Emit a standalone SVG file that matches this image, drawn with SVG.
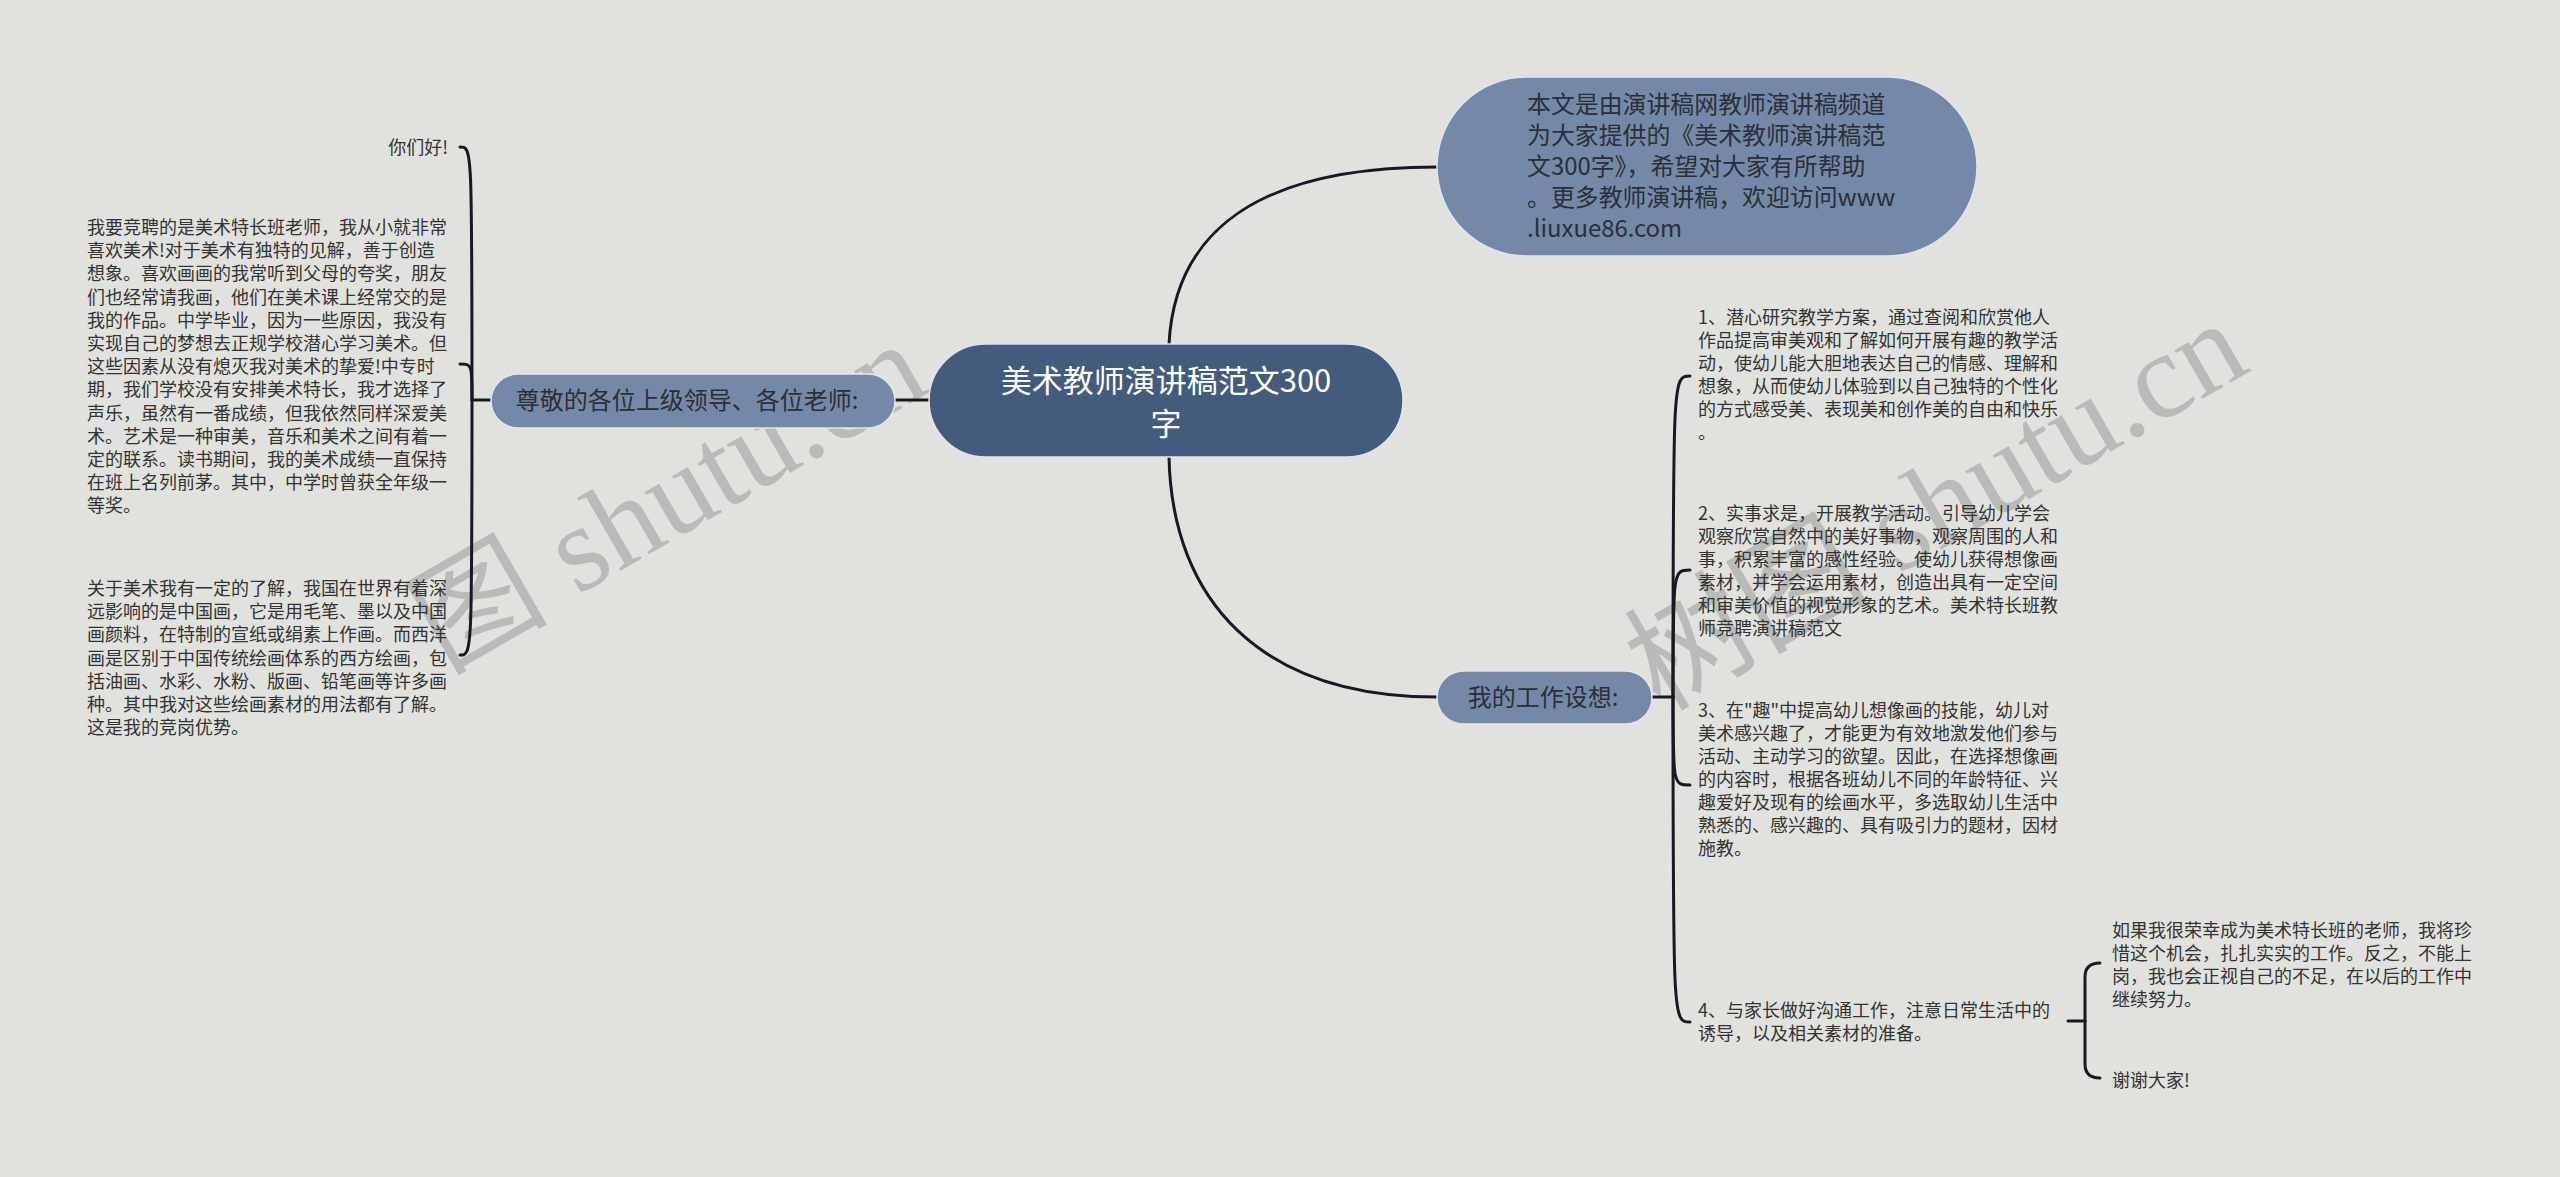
<svg xmlns="http://www.w3.org/2000/svg" width="2560" height="1177" viewBox="0 0 2560 1177">
<defs>
<style>
.bg{fill:#e1e2de}
.conn{fill:none;stroke:#151a25;stroke-width:3;stroke-linecap:round}
.root{fill:#435b7c;stroke:#dfe6ee;stroke-width:1.5}
.main{fill:#7489a8;stroke:#dfe6ee;stroke-width:1.5}
.t{font-family:'Noto Sans CJK SC','Noto Sans',sans-serif;fill:#333333;font-size:18px}
.tm{font-family:'Noto Sans CJK SC','Noto Sans',sans-serif;fill:#2b2f36;font-size:24px}
.tr{font-family:'Noto Sans CJK SC','Noto Sans',sans-serif;fill:#ffffff;font-size:31px}
.wm{font-family:'Liberation Serif','Noto Sans CJK SC',serif;fill:#8c8c8c;fill-opacity:0.45;font-size:122px}
</style>
</defs>
<rect class="bg" x="0" y="0" width="2560" height="1177"/>

<g id="watermark">
<text class="wm" x="445" y="672" transform="rotate(-30 445 672)">图 shutu.cn</text>
<text class="wm" x="1660" y="712" transform="rotate(-30 1660 712)">树图 shutu.cn</text>
</g>

<g id="connectors">
<path class="conn" d="M1169 344 C1175 230 1260 167 1437 167"/>
<path class="conn" d="M1169 457 C1172 600 1260 697 1437 697"/>
<path class="conn" d="M895 400 L929 400"/>
<path class="conn" d="M491 400 L472 400"/>
<path class="conn" d="M472 400 C472 147 472 147 460 147"/>
<path class="conn" d="M472 400 C472 364 472 364 460 364"/>
<path class="conn" d="M472 400 C472 655 472 655 460 655"/>
<path class="conn" d="M1652 697 L1673 697"/>
<path class="conn" d="M1673 697 C1673 376 1673 376 1690 376"/>
<path class="conn" d="M1673 697 C1673 570 1673 570 1690 570"/>
<path class="conn" d="M1673 697 C1673 785 1673 785 1690 785"/>
<path class="conn" d="M1673 697 C1673 1022 1673 1022 1690 1022"/>
<path class="conn" d="M2068 1021 L2085 1021"/>
<path class="conn" d="M2085 1021 L2085 977 Q2085 963 2100 963"/>
<path class="conn" d="M2085 1021 L2085 1064 Q2085 1078 2100 1078"/>
</g>

<g id="root">
<rect class="root" x="929" y="344" width="474" height="113" rx="56.5"/>
<text class="tr" text-anchor="middle"><tspan x="1166" y="392">美术教师演讲稿范文300</tspan><tspan x="1166" y="435">字</tspan></text>
</g>

<g id="intro">
<rect class="main" x="1437" y="77" width="540" height="179" rx="89.5"/>
<text class="tm" style="font-size:23.9px"><tspan x="1527" y="113">本文是由演讲稿网教师演讲稿频道</tspan><tspan x="1527" y="144">为大家提供的《美术教师演讲稿范</tspan><tspan x="1527" y="175">文300字》，希望对大家有所帮助</tspan><tspan x="1527" y="206">。更多教师演讲稿，欢迎访问www</tspan><tspan x="1527" y="237">.liuxue86.com</tspan></text>
</g>

<g id="greeting">
<rect class="main" x="491" y="374" width="404" height="54" rx="27"/>
<text class="tm" x="687" y="409" text-anchor="middle">尊敬的各位上级领导、各位老师:</text>
</g>

<g id="hello">
<text class="t" x="448" y="154" text-anchor="end">你们好!</text>
</g>

<g id="intro-self">
<text class="t"><tspan x="87" y="234">我要竞聘的是美术特长班老师，我从小就非常</tspan><tspan x="87" dy="23.2">喜欢美术!对于美术有独特的见解，善于创造</tspan><tspan x="87" dy="23.2">想象。喜欢画画的我常听到父母的夸奖，朋友</tspan><tspan x="87" dy="23.2">们也经常请我画，他们在美术课上经常交的是</tspan><tspan x="87" dy="23.2">我的作品。中学毕业，因为一些原因，我没有</tspan><tspan x="87" dy="23.2">实现自己的梦想去正规学校潜心学习美术。但</tspan><tspan x="87" dy="23.2">这些因素从没有熄灭我对美术的挚爱!中专时</tspan><tspan x="87" dy="23.2">期，我们学校没有安排美术特长，我才选择了</tspan><tspan x="87" dy="23.2">声乐，虽然有一番成绩，但我依然同样深爱美</tspan><tspan x="87" dy="23.2">术。艺术是一种审美，音乐和美术之间有着一</tspan><tspan x="87" dy="23.2">定的联系。读书期间，我的美术成绩一直保持</tspan><tspan x="87" dy="23.2">在班上名列前茅。其中，中学时曾获全年级一</tspan><tspan x="87" dy="23.2">等奖。</tspan></text>
</g>

<g id="advantage">
<text class="t"><tspan x="87" y="595">关于美术我有一定的了解，我国在世界有着深</tspan><tspan x="87" dy="23.2">远影响的是中国画，它是用毛笔、墨以及中国</tspan><tspan x="87" dy="23.2">画颜料，在特制的宣纸或绢素上作画。而西洋</tspan><tspan x="87" dy="23.2">画是区别于中国传统绘画体系的西方绘画，包</tspan><tspan x="87" dy="23.2">括油画、水彩、水粉、版画、铅笔画等许多画</tspan><tspan x="87" dy="23.2">种。其中我对这些绘画素材的用法都有了解。</tspan><tspan x="87" dy="23.2">这是我的竞岗优势。</tspan></text>
</g>

<g id="plan">
<rect class="main" x="1437" y="671" width="215" height="53" rx="26.5"/>
<text class="tm" x="1543" y="706" text-anchor="middle">我的工作设想:</text>
</g>

<g id="plan-1">
<text class="t"><tspan x="1698" y="324">1、潜心研究教学方案，通过查阅和欣赏他人</tspan><tspan x="1698" dy="23">作品提高审美观和了解如何开展有趣的教学活</tspan><tspan x="1698" dy="23">动，使幼儿能大胆地表达自己的情感、理解和</tspan><tspan x="1698" dy="23">想象，从而使幼儿体验到以自己独特的个性化</tspan><tspan x="1698" dy="23">的方式感受美、表现美和创作美的自由和快乐</tspan><tspan x="1698" dy="23">。</tspan></text>
</g>

<g id="plan-2">
<text class="t"><tspan x="1698" y="520">2、实事求是，开展教学活动。引导幼儿学会</tspan><tspan x="1698" dy="23">观察欣赏自然中的美好事物，观察周围的人和</tspan><tspan x="1698" dy="23">事，积累丰富的感性经验。使幼儿获得想像画</tspan><tspan x="1698" dy="23">素材，并学会运用素材，创造出具有一定空间</tspan><tspan x="1698" dy="23">和审美价值的视觉形象的艺术。美术特长班教</tspan><tspan x="1698" dy="23">师竞聘演讲稿范文</tspan></text>
</g>

<g id="plan-3">
<text class="t"><tspan x="1698" y="717">3、在"趣"中提高幼儿想像画的技能，幼儿对</tspan><tspan x="1698" dy="23">美术感兴趣了，才能更为有效地激发他们参与</tspan><tspan x="1698" dy="23">活动、主动学习的欲望。因此，在选择想像画</tspan><tspan x="1698" dy="23">的内容时，根据各班幼儿不同的年龄特征、兴</tspan><tspan x="1698" dy="23">趣爱好及现有的绘画水平，多选取幼儿生活中</tspan><tspan x="1698" dy="23">熟悉的、感兴趣的、具有吸引力的题材，因材</tspan><tspan x="1698" dy="23">施教。</tspan></text>
</g>

<g id="plan-4">
<text class="t"><tspan x="1698" y="1017">4、与家长做好沟通工作，注意日常生活中的</tspan><tspan x="1698" dy="23">诱导，以及相关素材的准备。</tspan></text>
</g>

<g id="closing">
<text class="t"><tspan x="2112" y="937">如果我很荣幸成为美术特长班的老师，我将珍</tspan><tspan x="2112" dy="23">惜这个机会，扎扎实实的工作。反之，不能上</tspan><tspan x="2112" dy="23">岗，我也会正视自己的不足，在以后的工作中</tspan><tspan x="2112" dy="23">继续努力。</tspan></text>
</g>

<g id="thanks">
<text class="t" x="2112" y="1087">谢谢大家!</text>
</g>
</svg>
